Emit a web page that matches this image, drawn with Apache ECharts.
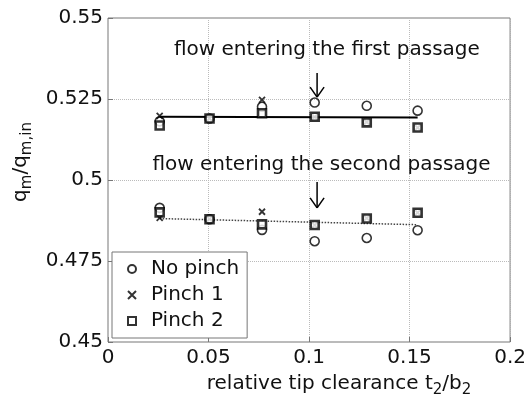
<!DOCTYPE html>
<html>
<head>
<meta charset="utf-8">
<script src="https://cdn.jsdelivr.net/npm/echarts@6/dist/echarts.min.js"></script>
<style>
html,body{margin:0;padding:0;background:#fff;}
#chart{width:529px;height:406px;}
</style>
</head>
<body>
<div id="chart"></div>
<script>
// ---- data ----
const xVals = [0.0257, 0.0505, 0.0766, 0.1028, 0.1287, 0.154];
const xTicks = [0, 0.05, 0.1, 0.15, 0.2];
const yTicks = [0.45, 0.475, 0.5, 0.525, 0.55];

const noPinchFirst  = [0.5181, 0.5190, 0.5226, 0.5239, 0.5229, 0.5214];
const noPinchSecond = [0.4914, 0.4879, 0.4846, 0.4811, 0.4821, 0.4845];
const pinch1First   = [0.5198, 0.5190, 0.5247, 0.5195, 0.5179, 0.5162];
const pinch1Second  = [0.4883, 0.4879, 0.4902, 0.4861, 0.4882, 0.4899];
const pinch2First   = [0.5168, 0.5190, 0.5206, 0.5195, 0.5178, 0.5162];
const pinch2Second  = [0.4900, 0.4879, 0.4863, 0.4861, 0.4881, 0.4899];

// trend lines: [start, end] values at first and last x
const fitFirst  = [0.5195, 0.5193];
const fitSecond = [0.4881, 0.4862];

// annotations: [x, yTop, yTip] for arrows, [x, y, text] for labels
const arrows = [[0.1040, 0.5330, 0.5256], [0.1040, 0.4994, 0.4914]];
const notes = [[0.1089, 0.5401, 'flow entering the first passage'],
               [0.1062, 0.5046, 'flow entering the second passage']];

const FONT = 'DejaVu Sans';
const pair = (ys) => xVals.map((x, i) => [x, ys[i]]);
const both = (a, b) => pair(a).concat(pair(b));
const fitLine = (f) => [[xVals[0], f[0]], [xVals[xVals.length - 1], f[1]]];

const crossPath = 'path://M0,0L10,10M10,0L0,10';

const chart = echarts.init(document.getElementById('chart'), null, {renderer: 'canvas'});
chart.setOption({
  animation: false,
  backgroundColor: '#fff',
  textStyle: {fontFamily: FONT},
  grid: {left: 108, right: 17, top: 18, bottom: 64, show: true, borderColor: '#777', borderWidth: 1},
  xAxis: {
    type: 'value', min: xTicks[0], max: xTicks[xTicks.length - 1], interval: 0.05,
    axisLine: {show: false},
    axisTick: {show: true, inside: true, length: 5, lineStyle: {color: '#777'}},
    axisLabel: {fontFamily: FONT, fontSize: 20, color: '#111', margin: 6},
    splitLine: {show: true, lineStyle: {type: 'dotted', color: '#bbb', width: 1}},
    name: 'relative tip clearance t{sub|2}/b{sub|2}',
    nameLocation: 'middle', nameGap: 27,
    nameTextStyle: {fontFamily: FONT, fontSize: 20, color: '#111', padding: [0, 0, 0, 60],
      rich: {sub: {fontFamily: FONT, fontSize: 15, color: '#111', verticalAlign: 'bottom', padding: [14, 0, 0, 0]}}}
  },
  yAxis: {
    type: 'value', min: yTicks[0], max: yTicks[yTicks.length - 1], interval: 0.025,
    axisLine: {show: false},
    axisTick: {show: true, inside: true, length: 5, lineStyle: {color: '#777'}},
    axisLabel: {fontFamily: FONT, fontSize: 20, color: '#111', margin: 5},
    splitLine: {show: true, lineStyle: {type: 'dotted', color: '#bbb', width: 1}},
    name: 'q{sub|m}/q{sub|m,in}',
    nameLocation: 'middle', nameGap: 68, nameRotate: 90,
    nameTextStyle: {fontFamily: FONT, fontSize: 20, color: '#111', padding: [0, 0, 0, 36],
      rich: {sub: {fontFamily: FONT, fontSize: 15, color: '#111', verticalAlign: 'bottom', padding: [14, 0, 0, 0]}}}
  },
  legend: {
    orient: 'vertical', left: 112, top: 252,
    padding: [7, 8, 7, 15], itemGap: 6, itemWidth: 8, itemHeight: 8,
    borderColor: '#777', borderWidth: 1, backgroundColor: '#fff',
    textStyle: {fontFamily: FONT, fontSize: 20, color: '#111', padding: [0, 0, 0, 10]},
    data: [{name: 'No pinch'}, {name: 'Pinch 1'}, {name: 'Pinch 2'}]
  },
  series: [
    {type: 'line', data: fitLine(fitFirst), symbol: 'none', silent: true,
     lineStyle: {color: '#000', width: 2}, z: 2},
    {type: 'line', data: fitLine(fitSecond), symbol: 'none', silent: true,
     lineStyle: {color: '#444', width: 1.5, type: 'dotted'}, z: 2},
    {name: 'No pinch', type: 'scatter', data: both(noPinchFirst, noPinchSecond),
     symbol: 'circle', symbolSize: 9,
     itemStyle: {color: 'rgba(0,0,0,0)', borderColor: '#000', borderWidth: 1.6}, z: 3},
    {name: 'Pinch 1', type: 'scatter', data: both(pinch1First, pinch1Second),
     symbol: crossPath, symbolSize: 6,
     itemStyle: {color: 'rgba(0,0,0,0)', borderColor: '#000', borderWidth: 1.8}, z: 4},
    {name: 'Pinch 2', type: 'scatter', data: both(pinch2First, pinch2Second),
     symbol: 'rect', symbolSize: 8,
     itemStyle: {color: '#fff', borderColor: '#000', borderWidth: 2.6}, z: 5},
    {type: 'custom', silent: true, z: 6, data: arrows,
     renderItem: function (params, api) {
       const top = api.coord([api.value(0), api.value(1)]);
       const tip = api.coord([api.value(0), api.value(2)]);
       const st = {stroke: '#000', lineWidth: 1.5, fill: null};
       return {type: 'group', children: [
         {type: 'line', shape: {x1: top[0], y1: top[1], x2: tip[0], y2: tip[1]}, style: st},
         {type: 'line', shape: {x1: tip[0] - 7, y1: tip[1] - 10, x2: tip[0], y2: tip[1]}, style: st},
         {type: 'line', shape: {x1: tip[0] + 7, y1: tip[1] - 10, x2: tip[0], y2: tip[1]}, style: st}
       ]};
     }},
    {type: 'custom', silent: true, z: 6, data: notes,
     encode: {x: 0, y: 1},
     renderItem: function (params, api) {
       const p = api.coord([api.value(0), api.value(1)]);
       return {type: 'text', x: p[0], y: p[1],
         style: {text: notes[params.dataIndex][2], fontFamily: FONT, fontSize: 20, fill: '#111',
                 align: 'center', verticalAlign: 'middle'}};
     }}
  ]
});
</script>
</body>
</html>
